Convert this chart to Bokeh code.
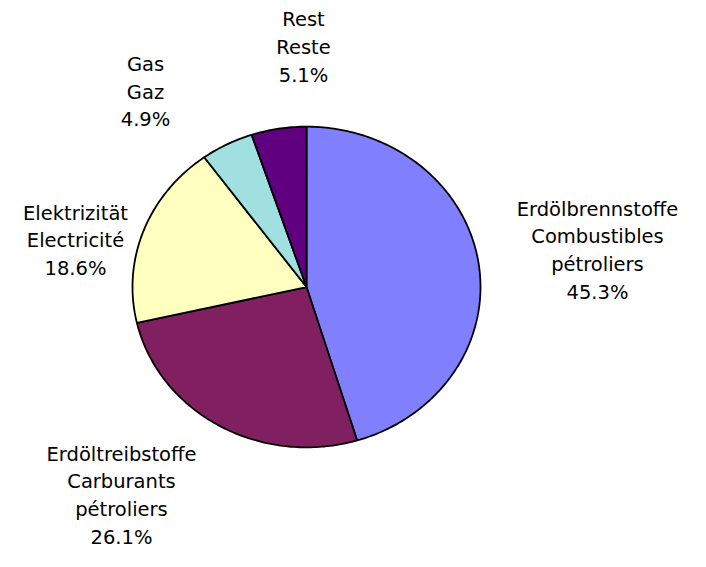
import numpy as np
from bokeh.plotting import figure
from bokeh.models import ColumnDataSource, Range1d
from bokeh.core.properties import value
from bokeh.embed import file_html
from bokeh.resources import INLINE

# ---- data ----
labels_de = ["Erdölbrennstoffe", "Erdöltreibstoffe", "Elektrizität", "Gas", "Rest"]
labels_fr = [["Combustibles", "pétroliers"], ["Carburants", "pétroliers"], ["Electricité"], ["Gaz"], ["Reste"]]
shares = [45.3, 26.1, 18.6, 4.9, 5.1]
colors = ["#8080FF", "#802060", "#FFFFC0", "#A0E0E0", "#600080"]

# ---- layout (pixels) ----
W, H = 690, 551
SY = H / 567.0             # vertical squeeze so the page fits the window
DY = 6                     # small upward shift
CX, CY = 306, 301 * SY - DY  # pie centre inside the figure (px from left/top)
RX, RY = 174, 165 * SY     # pie radii in px
LINE = 28.5 * SY           # label line spacing (px)
FONT = "19.5px"
# first-baseline anchor of each label block, in px (reference coords)
label_anchor = [(597, 221), (121, 473), (75, 225), (145, 72), (303, 26)]

p = figure(width=W, height=H, output_backend="svg", toolbar_location=None,
           x_range=Range1d(-CX / RX, (W - CX) / RX),
           y_range=Range1d(-(H - CY) / RY, CY / RY),
           min_border=0, outline_line_color=None)
p.axis.visible = False
p.grid.visible = False
p.background_fill_color = "white"

total = sum(shares)
xs, ys = [], []
start = 0.0
for s in shares:
    a0 = start / total * 2 * np.pi
    a1 = (start + s) / total * 2 * np.pi
    t = np.linspace(a0, a1, max(int(s * 4), 8))
    # clockwise from 12 o'clock
    px = np.concatenate([[0.0], np.sin(t), [0.0]])
    py = np.concatenate([[0.0], np.cos(t), [0.0]])
    xs.append(list(px))
    ys.append(list(py))
    start += s

src = ColumnDataSource(dict(xs=xs, ys=ys, color=colors))
p.patches("xs", "ys", source=src, fill_color="color", line_color="black", line_width=1.8)

tx, ty, tt = [], [], []
for i, (de, fr, s) in enumerate(zip(labels_de, labels_fr, shares)):
    lines = [de] + fr + [f"{s:.1f}%"]
    ax, ay = label_anchor[i]
    for j, ln in enumerate(lines):
        tx.append((ax - CX) / RX)
        ty.append((CY - (ay * SY - DY + j * LINE)) / RY)
        tt.append(ln)

tsrc = ColumnDataSource(dict(x=tx, y=ty, text=tt))
p.text("x", "y", text="text", source=tsrc, text_align="center", text_baseline="alphabetic",
       text_font=value("DejaVu Sans"), text_font_size=FONT, text_color="black")

open("out.html", "w").write(file_html(p, INLINE))
